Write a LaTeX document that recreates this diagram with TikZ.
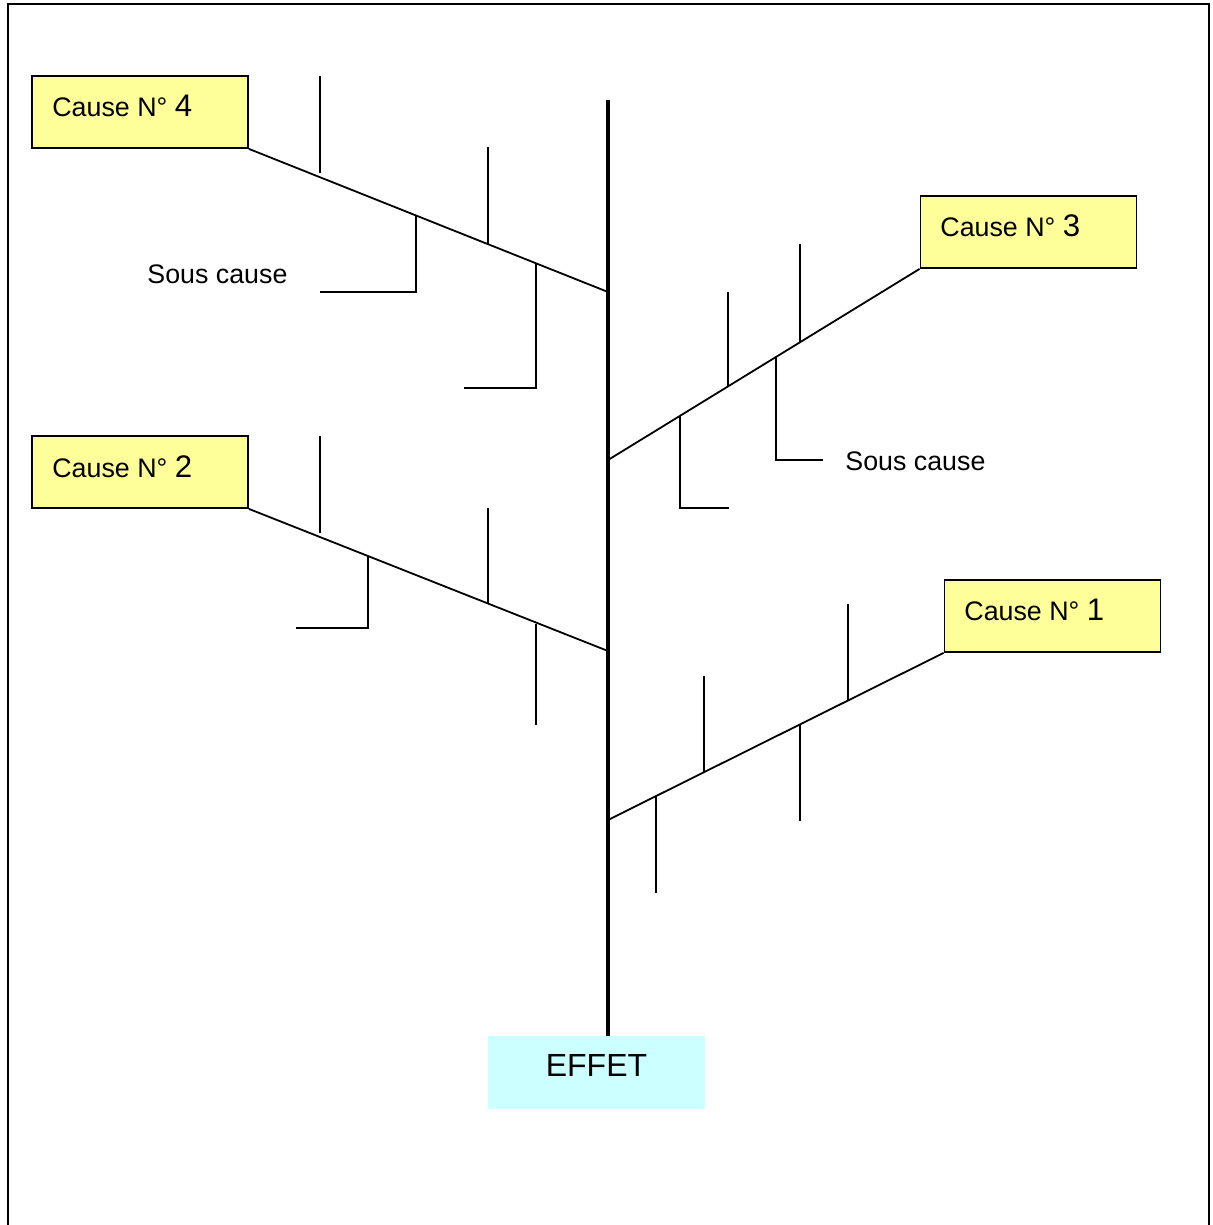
\documentclass[tikz,border=0pt]{standalone}
\usepackage{fontspec}
\setmainfont{Liberation Sans}
\definecolor{causefill}{HTML}{FFFF99}
\definecolor{effetfill}{HTML}{CCFFFF}
\begin{document}
\begin{tikzpicture}[x=0.5pt,y=-0.5pt,
  causebox/.style={draw=black,line width=0.9pt,fill=causefill,minimum width=108pt,minimum height=36pt,inner sep=0pt},
  effetbox/.style={fill=effetfill,minimum width=108.5pt,minimum height=36.5pt,inner sep=0pt},
  lbl/.style={inner sep=0pt,font=\fontsize{13.4}{15}\selectfont},
  bone/.style={line width=0.9pt},
  sub/.style={line width=1pt},
  spine/.style={line width=2pt}]
\useasboundingbox (0,0) rectangle (1212,1225);
% frame
\draw[line width=1pt] (8,1226) -- (8,4) -- (1209,4) -- (1209,1226);
% nodes
\node[causebox] (c4) at (140,112) {};
\node[causebox] (c3) at (1028.5,232) {};
\node[causebox] (c2) at (140,472) {};
\node[causebox] (c1) at (1052.5,616) {};
\node[effetbox] (effet) at (596.5,1072.5) {};
\node[lbl,anchor=base west] (t4) at (52,117) {Cause N° {\fontsize{15.6}{17}\selectfont 4}};
\node[lbl,anchor=base west] (t3) at (940,236) {Cause N° {\fontsize{15.6}{17}\selectfont 3}};
\node[lbl,anchor=base west] (t2) at (52,477) {Cause N° {\fontsize{15.6}{17}\selectfont 2}};
\node[lbl,anchor=base west] (t1) at (964,620) {Cause N° {\fontsize{15.6}{17}\selectfont 1}};
\node[inner sep=0pt,anchor=base,font=\fontsize{16}{19}\selectfont] (te) at (596.5,1076) {EFFET};
\node[lbl,anchor=base west] (s1) at (147,283) {Sous cause};
\node[lbl,anchor=base west] (s2) at (845,470) {Sous cause};
% spine
\coordinate (top) at (608,100);
\coordinate (j4) at (608,292);
\coordinate (j3) at (608,460);
\coordinate (j2) at (608,651);
\coordinate (j1) at (608,820);
\draw[spine] (top) -- (effet.north -| top);
% bones
\draw[bone] (c4.south east) -- (j4);
\draw[bone] (c3.south west) -- (j3);
\draw[bone] (c2.south east) -- (j2);
\draw[bone] (c1.south west) -- (j1);
% sub causes of cause 4
\draw[sub] (320,76) -- (320,173);
\draw[sub] (488,147) -- (488,244);
\draw[sub] (416,216) -- (416,292) -- (320,292);
\draw[sub] (536,264) -- (536,388) -- (464,388);
% sub causes of cause 3
\draw[sub] (800,244) -- (800,342);
\draw[sub] (728,292) -- (728,387);
\draw[sub] (776,357) -- (776,460) -- (823,460);
\draw[sub] (680,416) -- (680,508) -- (729,508);
% sub causes of cause 2
\draw[sub] (320,436) -- (320,533);
\draw[sub] (488,508) -- (488,604);
\draw[sub] (368,556) -- (368,628) -- (296,628);
\draw[sub] (536,624) -- (536,725);
% sub causes of cause 1
\draw[sub] (848,604) -- (848,700);
\draw[sub] (704,676) -- (704,772);
\draw[sub] (800,724) -- (800,821);
\draw[sub] (656,796) -- (656,893);
\end{tikzpicture}
\end{document}
